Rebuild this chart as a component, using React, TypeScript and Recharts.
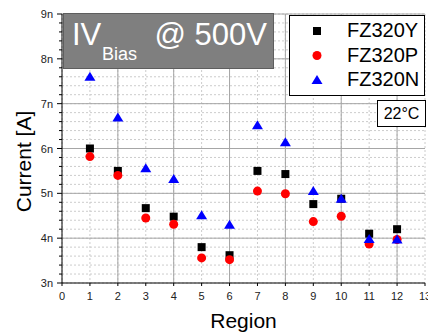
import React from 'react';
import {
  ScatterChart,
  Scatter,
  XAxis,
  YAxis,
  CartesianGrid,
  ReferenceLine,
  Legend,
} from 'recharts';

// currents in nA, one value per region
const regions = [1, 2, 3, 4, 5, 6, 7, 8, 9, 10, 11, 12];
const fz320Y = [6.0, 5.5, 4.67, 4.48, 3.8, 3.62, 5.5, 5.43, 4.76, 4.88, 4.1, 4.2];
const fz320P = [5.82, 5.4, 4.45, 4.31, 3.56, 3.52, 5.05, 4.99, 4.37, 4.49, 3.87, 3.97];
const fz320N = [7.6, 6.69, 5.56, 5.32, 4.51, 4.3, 6.52, 6.14, 5.05, 4.88, 3.98, 3.97];
const seriesNames = ['FZ320Y', 'FZ320P', 'FZ320N'];

const xTicks = [0, 1, 2, 3, 4, 5, 6, 7, 8, 9, 10, 11, 12, 13];
const xMajorGrid = [2, 4, 6, 8, 10, 12];
const yMajorTicks = [3, 4, 5, 6, 7, 8, 9];
const yMinorTicks = Array.from({ length: 31 }, (_, i) => Math.round((3 + i * 0.2) * 10) / 10);

const FONT = '"Liberation Sans", Arial, sans-serif';

const toPoints = (vals: number[]) => regions.map((r, i) => ({ x: r, y: vals[i] }));

const SquareDot = ({ cx, cy }: any) => <rect x={cx - 4} y={cy - 4} width={8} height={8} fill="#000" />;
const CircleDot = ({ cx, cy }: any) => <circle cx={cx} cy={cy} r={4.5} fill="#ff0000" />;
const TriDot = ({ cx, cy }: any) => (
  <polygon points={`${cx},${cy - 5} ${cx + 5.5},${cy + 4} ${cx - 5.5},${cy + 4}`} fill="#0000ff" />
);

const markers: Record<string, any> = { FZ320Y: SquareDot, FZ320P: CircleDot, FZ320N: TriDot };

function YTick({ x, y, payload }: any) {
  const major = yMajorTicks.includes(payload.value);
  return (
    <g>
      <line x1={x - (major ? 5 : 3)} x2={x} y1={y} y2={y} stroke="#000" />
      {major && (
        <text x={x - 9} y={y + 4} textAnchor="end" fontSize={11} fontFamily={FONT} fill="#222">
          {payload.value}n
        </text>
      )}
    </g>
  );
}

function XTick({ x, y, payload }: any) {
  return (
    <g>
      <line x1={x} x2={x} y1={y} y2={y + 3} stroke="#000" />
      <text x={x} y={y + 17} textAnchor="middle" fontSize={11} fontFamily={FONT} fill="#222">
        {payload.value}
      </text>
    </g>
  );
}

function LegendBox({ payload }: any) {
  const items = [...(payload || [])].sort(
    (a: any, b: any) => seriesNames.indexOf(a.value) - seriesNames.indexOf(b.value)
  );
  return (
    <div style={{ width: 136, height: 81, boxSizing: 'border-box', border: '1px solid #000', background: '#fff' }}>
      <svg width={134} height={79}>
        {items.map((p: any, i: number) => {
          const M = markers[p.value];
          const cy = 15 + i * 24.5;
          return (
            <g key={p.value}>
              <M cx={27} cy={cy} />
              <text x={57} y={cy + 6} fontSize={20} fontFamily={FONT} fill="#000">
                {p.value}
              </text>
            </g>
          );
        })}
      </svg>
    </div>
  );
}

export default function App() {
  return (
    <div style={{ position: 'absolute', left: 0, top: 0, width: 428, height: 333, background: '#fff', fontFamily: FONT }}>
      <ScatterChart width={428} height={333} margin={{ top: 14, right: 3, bottom: 0, left: 0 }}>
        <CartesianGrid stroke="#cccccc" strokeDasharray="2 2" />
        {yMajorTicks.slice(1).map((v) => (
          <ReferenceLine key={'h' + v} y={v} stroke="#a6a6a6" />
        ))}
        {xMajorGrid.map((v) => (
          <ReferenceLine key={'v' + v} x={v} stroke="#a6a6a6" />
        ))}
        <XAxis
          type="number"
          dataKey="x"
          domain={[0, 13]}
          ticks={xTicks}
          interval={0}
          height={50}
          tickSize={0}
          tickMargin={0}
          tickLine={false}
          tick={<XTick />}
          axisLine={{ stroke: '#000' }}
          label={{
            content: ({ viewBox }: any) => (
              <text x={viewBox.x + viewBox.width / 2} y={viewBox.y + 45} textAnchor="middle" fontSize={21} fontFamily={FONT} fill="#000">
                Region
              </text>
            ),
          }}
        />
        <YAxis
          type="number"
          dataKey="y"
          domain={[3, 9]}
          ticks={yMinorTicks}
          interval={0}
          width={62}
          tickSize={0}
          tickMargin={0}
          tickLine={false}
          tick={<YTick />}
          axisLine={{ stroke: '#000' }}
          label={{
            content: ({ viewBox }: any) => {
              const lx = 31;
              const ly = viewBox.y + viewBox.height / 2 + 13;
              return (
                <text x={lx} y={ly} transform={`rotate(-90, ${lx}, ${ly})`} textAnchor="middle" fontSize={21} fontFamily={FONT} fill="#000">
                  Current [A]
                </text>
              );
            },
          }}
        />
        <Legend
          layout="vertical"
          align="center"
          verticalAlign="middle"
          itemSorter={null}
          content={<LegendBox />}
          wrapperStyle={{ left: 289, top: 15, width: 136, height: 81 }}
        />
        <Scatter name="FZ320Y" data={toPoints(fz320Y)} shape={<SquareDot />} isAnimationActive={false} />
        <Scatter name="FZ320P" data={toPoints(fz320P)} shape={<CircleDot />} isAnimationActive={false} />
        <Scatter name="FZ320N" data={toPoints(fz320N)} shape={<TriDot />} isAnimationActive={false} />
      </ScatterChart>
      <svg width={428} height={333} style={{ position: 'absolute', left: 0, top: 0, pointerEvents: 'none' }}>
        <rect x={63.5} y={13.5} width={210} height={55} fill="#7f7f7f" stroke="#5e5e5e" />
        <text x={72} y={45} fontSize={31} fontFamily={FONT} fill="#fff">IV</text>
        <text x={102} y={60} fontSize={18} fontFamily={FONT} fill="#fff">Bias</text>
        <text x={267} y={45} textAnchor="end" fontSize={31} fontFamily={FONT} fill="#fff">@ 500V</text>
        <rect x={377.5} y={100.5} width={48} height={26} fill="#fff" stroke="#000" />
        <text x={401.5} y={119} textAnchor="middle" fontSize={16} fontFamily={FONT} fill="#000">22°C</text>
      </svg>
    </div>
  );
}
